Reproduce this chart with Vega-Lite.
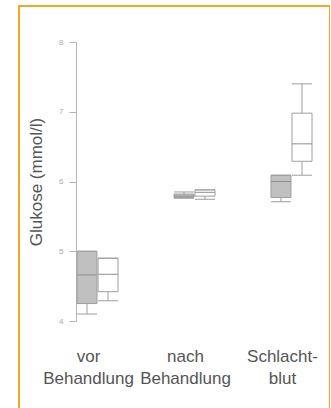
{
  "$schema": "https://vega.github.io/schema/vega-lite/v6.json",
  "autosize": {"type": "none"},
  "padding": {"left": 19, "top": 6, "right": 0, "bottom": 0},
  "width": 311,
  "height": 420,
  "background": "white",
  "config": {"view": {"stroke": "#f5a623", "strokeWidth": 2}, "font": "Liberation Sans"},
  "data": {"values": [
    {"group": "vor|Behandlung", "series": "A", "low": 4.10, "q1": 4.25, "median": 4.66, "q3": 5.00, "high": 5.00},
    {"group": "vor|Behandlung", "series": "B", "low": 4.29, "q1": 4.42, "median": 4.67, "q3": 4.90, "high": 4.90},
    {"group": "nach|Behandlung", "series": "A", "low": 5.76, "q1": 5.77, "median": 5.79, "q3": 5.82, "high": 5.85},
    {"group": "nach|Behandlung", "series": "B", "low": 5.745, "q1": 5.79, "median": 5.845, "q3": 5.88, "high": 5.88},
    {"group": "Schlacht-|blut", "series": "A", "low": 5.71, "q1": 5.77, "median": 6.00, "q3": 6.09, "high": 6.09},
    {"group": "Schlacht-|blut", "series": "B", "low": 6.09, "q1": 6.29, "median": 6.54, "q3": 6.98, "high": 7.40}
  ]},
  "encoding": {
    "x": {
      "field": "group", "type": "nominal", "sort": null,
      "scale": {"range": [58, 293], "paddingInner": 0.577, "paddingOuter": 0},
      "axis": {
        "title": null, "domain": false, "ticks": false, "labelAngle": 0,
        "labelFontSize": 17, "labelColor": "#555555", "labelLineHeight": 22,
        "labelPadding": 27, "labelBaseline": "top", "labelOffset": -9, "offset": -105,
        "labelExpr": "split(datum.label, '|')"
      }
    },
    "xOffset": {"field": "series", "type": "nominal", "scale": {"paddingInner": 0.05, "paddingOuter": 0}}
  },
  "layer": [
    {
      "mark": {"type": "rule", "color": "#9e9e9e", "strokeWidth": 1},
      "encoding": {
        "y": {
          "field": "low", "type": "quantitative",
          "scale": {"domain": [4, 8], "range": [315, 36], "nice": false, "zero": false},
          "axis": {
            "values": [4, 5, 6, 7, 8], "format": "d", "grid": false, "domainColor": "#b5b5b5", "tickColor": "#b5b5b5",
            "tickSize": 7, "labelFontSize": 8, "labelColor": "#aaaaaa", "labelPadding": 6, "offset": -57,
            "title": "Glukose (mmol/l)", "titleFontSize": 17, "titleFontWeight": "normal",
            "titleColor": "#555555", "titlePadding": 13
          }
        },
        "y2": {"field": "high"}
      }
    },
    {
      "mark": {"type": "bar", "stroke": "#9e9e9e", "strokeWidth": 1},
      "encoding": {
        "y": {"field": "q1", "type": "quantitative"},
        "y2": {"field": "q3"},
        "fill": {"field": "series", "type": "nominal", "scale": {"domain": ["A", "B"], "range": ["#c0c0c0", "#ffffff"]}, "legend": null}
      }
    },
    {
      "mark": {"type": "tick", "size": 20, "thickness": 1, "color": "#8e8e8e", "opacity": 1},
      "encoding": {"y": {"field": "median", "type": "quantitative"}}
    },
    {
      "mark": {"type": "tick", "size": 20, "thickness": 1, "color": "#9e9e9e", "opacity": 1},
      "encoding": {"y": {"field": "low", "type": "quantitative"}}
    },
    {
      "mark": {"type": "tick", "size": 20, "thickness": 1, "color": "#9e9e9e", "opacity": 1},
      "encoding": {"y": {"field": "high", "type": "quantitative"}}
    }
  ]
}
